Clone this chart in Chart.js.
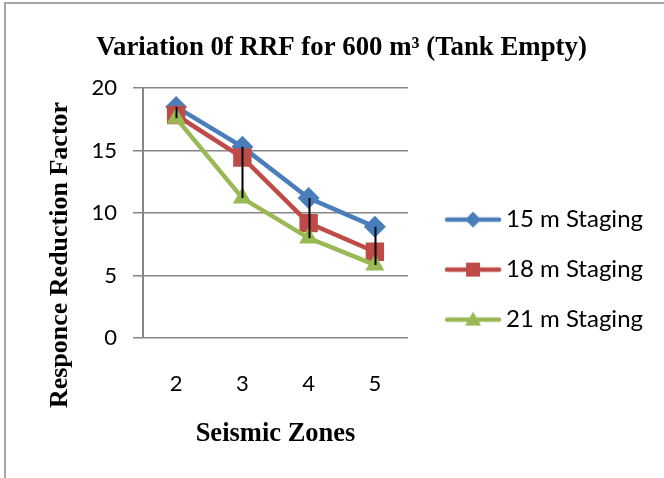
<!DOCTYPE html>
<html>
<head>
<meta charset="utf-8">
<script src="https://cdn.jsdelivr.net/npm/chart.js@4/dist/chart.umd.min.js"></script>
<style>
  html, body { margin: 0; padding: 0; background: #fff; }
  #wrap { position: relative; width: 664px; height: 478px; }
  #frame {
    position: absolute; left: 4px; top: 2px; width: 700px; height: 500px;
    border-left: 2px solid #a6a6a6; border-top: 2px solid #a6a6a6;
    pointer-events: none;
  }
</style>
</head>
<body>
<div id="wrap">
  <canvas id="rrfChart" width="664" height="478"></canvas>
  <div id="frame"></div>
</div>
<script>
const zones = ["2", "3", "4", "5"];

const staging15 = [18.5, 15.3, 11.2, 8.9];
const staging18 = [17.85, 14.45, 9.2, 6.9];
const staging21 = [17.6, 11.2, 8.0, 5.85];

const yTicks = [0, 5, 10, 15, 20];

const blue = "#4A7EBB";
const red = "#BE4B48";
const green = "#98B954";

// legend swatch: short line with the marker in its middle
function legendIcon(color, style, radius) {
    const c = document.createElement("canvas");
    c.width = 76;
    c.height = 24;
    const g = c.getContext("2d");
    const mx = 47;
    g.strokeStyle = color;
    g.lineWidth = 4.5;
    g.lineCap = "round";
    g.beginPath();
    g.moveTo(21, 12);
    g.lineTo(73, 12);
    g.stroke();
    g.fillStyle = color;
    g.beginPath();
    if (style === "rectRot") {
        g.moveTo(mx, 12 - radius);
        g.lineTo(mx + radius, 12);
        g.lineTo(mx, 12 + radius);
        g.lineTo(mx - radius, 12);
    } else if (style === "rect") {
        g.rect(mx - radius, 12 - radius, radius * 2, radius * 2);
    } else {
        g.moveTo(mx, 12 - radius);
        g.lineTo(mx + radius, 12 + radius * 0.75);
        g.lineTo(mx - radius, 12 + radius * 0.75);
    }
    g.closePath();
    g.fill();
    return c;
}

const icons = [
    legendIcon(blue, "rectRot", 8),
    legendIcon(red, "rect", 7),
    legendIcon(green, "triangle", 8)
];

// black high-low lines between the top and bottom series
const highLow = {
    id: "highLow",
    afterDatasetsDraw(chart) {
        const ctx = chart.ctx;
        const xs = chart.scales.x;
        const ys = chart.scales.y;
        ctx.save();
        ctx.strokeStyle = "#000";
        ctx.lineWidth = 2;
        zones.forEach((z, i) => {
            const vals = [staging15[i], staging18[i], staging21[i]];
            const x = Math.round(xs.getPixelForValue(i)) + 0.5;
            ctx.beginPath();
            ctx.moveTo(x, ys.getPixelForValue(Math.max(...vals)));
            ctx.lineTo(x, ys.getPixelForValue(Math.min(...vals)));
            ctx.stroke();
        });
        ctx.restore();
    }
};

// y axis title sits lower than the plot centre, like the original
const yTitle = {
    id: "yTitle",
    afterDraw(chart) {
        const ctx = chart.ctx;
        ctx.save();
        ctx.translate(60, 255);
        ctx.rotate(-Math.PI / 2);
        ctx.font = "bold 26px 'Liberation Serif'";
        ctx.fillStyle = "#000";
        ctx.textAlign = "center";
        ctx.textBaseline = "middle";
        ctx.fillText("Responce Reduction Factor", 0, 0);
        ctx.restore();
    }
};

new Chart(document.getElementById("rrfChart"), {
    type: "line",
    data: {
        labels: zones,
        datasets: [
            {
                label: "15 m Staging",
                data: staging15,
                borderColor: blue,
                backgroundColor: blue,
                borderWidth: 4.5,
                pointStyle: "rectRot",
                pointRadius: 11,
                pointBorderWidth: 0,
                order: 3,
                tension: 0
            },
            {
                label: "18 m Staging",
                data: staging18,
                borderColor: red,
                backgroundColor: red,
                borderWidth: 4.5,
                pointStyle: "rect",
                pointRadius: 13,
                pointBorderWidth: 0,
                order: 2,
                tension: 0
            },
            {
                label: "21 m Staging",
                data: staging21,
                borderColor: green,
                backgroundColor: green,
                borderWidth: 4.5,
                pointStyle: "triangle",
                pointRadius: 11,
                pointBorderWidth: 0,
                order: 1,
                tension: 0
            }
        ]
    },
    options: {
        responsive: false,
        animation: false,
        layout: {
            padding: { top: 10, left: 30, right: 11, bottom: 28 }
        },
        plugins: {
            title: {
                display: true,
                text: "Variation 0f RRF for 600 m\u00B3 (Tank Empty)",
                color: "#000",
                font: { family: "'Liberation Serif'", size: 26.8, weight: "bold" },
                padding: { top: 22, bottom: 24 }
            },
            legend: {
                position: "right",
                maxWidth: 300,
                // empty title only pushes the entries down
                title: {
                    display: true,
                    text: "",
                    font: { size: 1 },
                    padding: { top: 78, bottom: 0 }
                },
                labels: {
                    usePointStyle: true,
                    pointStyleWidth: 60,
                    padding: 26,
                    color: "#000",
                    font: { family: "Lato", size: 24 },
                    generateLabels(chart) {
                        return chart.data.datasets.map((ds, i) => ({
                            text: ds.label,
                            pointStyle: icons[i],
                            fillStyle: ds.borderColor,
                            strokeStyle: ds.borderColor,
                            lineWidth: 0,
                            fontColor: "#000",
                            hidden: !chart.isDatasetVisible(i),
                            datasetIndex: i
                        }));
                    }
                }
            },
            tooltip: { enabled: false }
        },
        scales: {
            x: {
                offset: true,
                grid: { display: false },
                border: { display: false },
                ticks: {
                    color: "#000",
                    padding: 25,
                    font: { family: "Lato", size: 22 }
                },
                title: {
                    display: true,
                    text: "Seismic Zones",
                    color: "#000",
                    font: { family: "'Liberation Serif'", size: 26.5, weight: "bold" },
                    padding: { top: 0, bottom: 0 }
                },
                afterFit(s) { s.height = 112; }
            },
            y: {
                min: 0,
                max: 20,
                afterBuildTicks(s) { s.ticks = yTicks.map(v => ({ value: v })); },
                grid: {
                    color: "#868686",
                    lineWidth: 1.5,
                    tickLength: 10,
                    tickColor: "#868686"
                },
                border: { display: true, color: "#868686", width: 2 },
                ticks: {
                    color: "#000",
                    padding: 16,
                    font: { family: "Lato", size: 22 }
                },
                afterFit(s) { s.width = 113; }
            }
        }
    },
    plugins: [highLow, yTitle]
});
</script>
</body>
</html>
